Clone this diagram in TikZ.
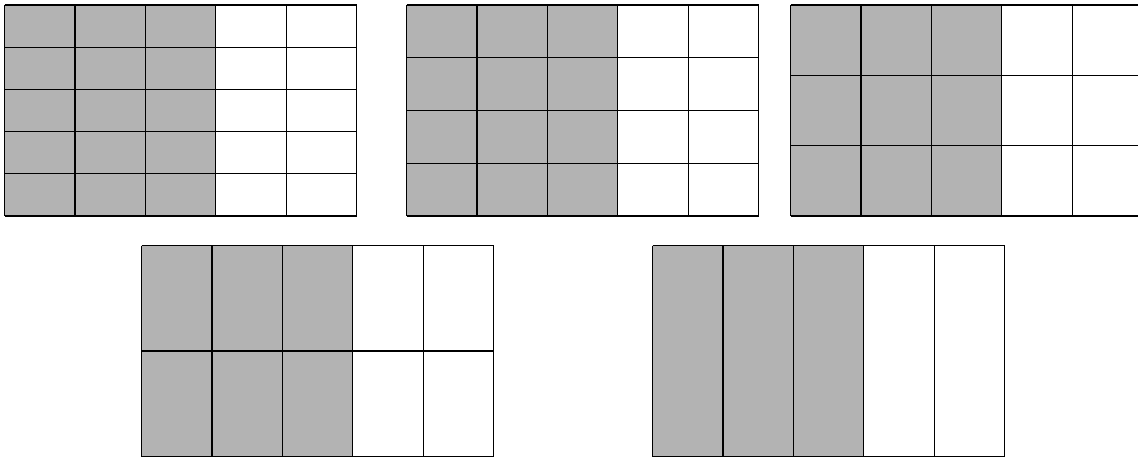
\documentclass[tikz,border=0pt]{standalone}
\usetikzlibrary{calc}
\definecolor{cellgray}{RGB}{179,179,179}
\tikzset{
  cellfill/.style={fill=cellgray},
  gridline/.style={draw=black,line width=1.2pt},
  pics/fracgrid/.style={code={
    \fill[cellfill] (0,0) rectangle (211.2,211);
    \pgfmathsetmacro\rowh{211/#1}
    \foreach \j in {0,...,#1} \draw[gridline] (0,\j*\rowh) -- (352,\j*\rowh);
    \foreach \i in {0,...,5} \draw[gridline] (\i*70.4,0) -- (\i*70.4,211);
  }}
}
\begin{document}
\begin{tikzpicture}[x=1pt,y=-1pt]
\useasboundingbox (0,0) rectangle (1138,456);
\clip (0,0) rectangle (1138,456);
\pic (g1) at (4.5,5) {fracgrid=5};
\pic (g2) at (406.5,5) {fracgrid=4};
\pic (g3) at (790.5,5) {fracgrid=3};
\pic (g4) at (141.5,245.5) {fracgrid=2};
\pic (g5) at (652.5,245.5) {fracgrid=1};
\end{tikzpicture}
\end{document}
